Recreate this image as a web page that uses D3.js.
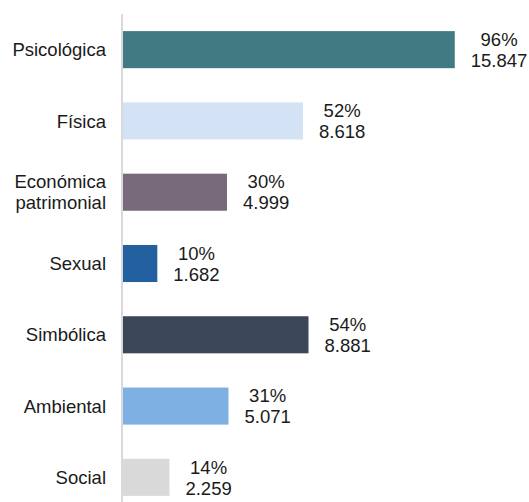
<!DOCTYPE html>
<html>
<head>
<meta charset="utf-8">
<script src="https://cdn.jsdelivr.net/npm/d3@7"></script>
<style>
  body { margin: 0; background: #fff; }
  text { font-family: "Liberation Sans", Arial, sans-serif; font-size: 18.5px; fill: #1a1a1a; }
</style>
</head>
<body>
<svg width="529" height="502"></svg>
<script>
// data
var categories = [["Psicológica"], ["Física"], ["Económica", "patrimonial"], ["Sexual"], ["Simbólica"], ["Ambiental"], ["Social"]];
var counts = [15847, 8618, 4999, 1682, 8881, 5071, 2259];
var percents = ["96%", "52%", "30%", "10%", "54%", "31%", "14%"];
var colors = ["#427a84", "#d3e3f5", "#786a7a", "#2260a0", "#3b4659", "#7fb0e3", "#d9d9d9"];

var svg = d3.select("svg");

var rows = counts.map(function(v, i) {
    return { i: i, label: categories[i], value: v, pct: percents[i], color: colors[i] };
});

var y = d3.scaleBand()
    .domain(d3.range(rows.length))
    .range([14, 513])
    .paddingInner(0.48)
    .paddingOuter(0.24);

var x = d3.scaleLinear()
    .domain([0, 18000])
    .range([122, 500]);

// bars
svg.selectAll(".bar")
    .data(rows)
    .enter().append("rect")
    .attr("class", "bar")
    .attr("x", x(0))
    .attr("y", function(d) { return y(d.i); })
    .attr("width", function(d) { return x(d.value) - x(0); })
    .attr("height", y.bandwidth())
    .attr("fill", function(d) { return d.color; });

// vertical axis line
svg.append("line")
    .attr("x1", x(0)).attr("x2", x(0))
    .attr("y1", 14).attr("y2", 502)
    .attr("stroke", "#d9d9d9")
    .attr("stroke-width", 2);

var lineH = 21;

// category labels
svg.selectAll(".cat")
    .data(rows)
    .enter().append("text")
    .attr("class", "cat")
    .attr("text-anchor", "end")
    .each(function(d) {
        var t = d3.select(this);
        var n = d.label.length;
        var cy = y(d.i) + y.bandwidth() / 2;
        d.label.forEach(function(s, k) {
            t.append("tspan")
                .attr("x", 106)
                .attr("y", cy + (k - (n - 1) / 2) * lineH + 6.7)
                .text(s);
        });
    });

// value labels: percent over count
svg.selectAll(".val")
    .data(rows)
    .enter().append("text")
    .attr("class", "val")
    .attr("text-anchor", "middle")
    .each(function(d) {
        var t = d3.select(this);
        var cy = y(d.i) + y.bandwidth() / 2;
        var lines = [d.pct, d3.format(",")(d.value).replace(/,/g, ".")];
        var spans = lines.map(function(s, k) {
            return t.append("tspan")
                .attr("y", cy + (k - 0.5) * lineH + 6.7)
                .text(s);
        });
        var w = d3.max(spans, function(sp) { return sp.node().getComputedTextLength(); });
        var cx = x(d.value) + 16 + w / 2;
        spans.forEach(function(sp) { sp.attr("x", cx); });
    });
</script>
</body>
</html>
